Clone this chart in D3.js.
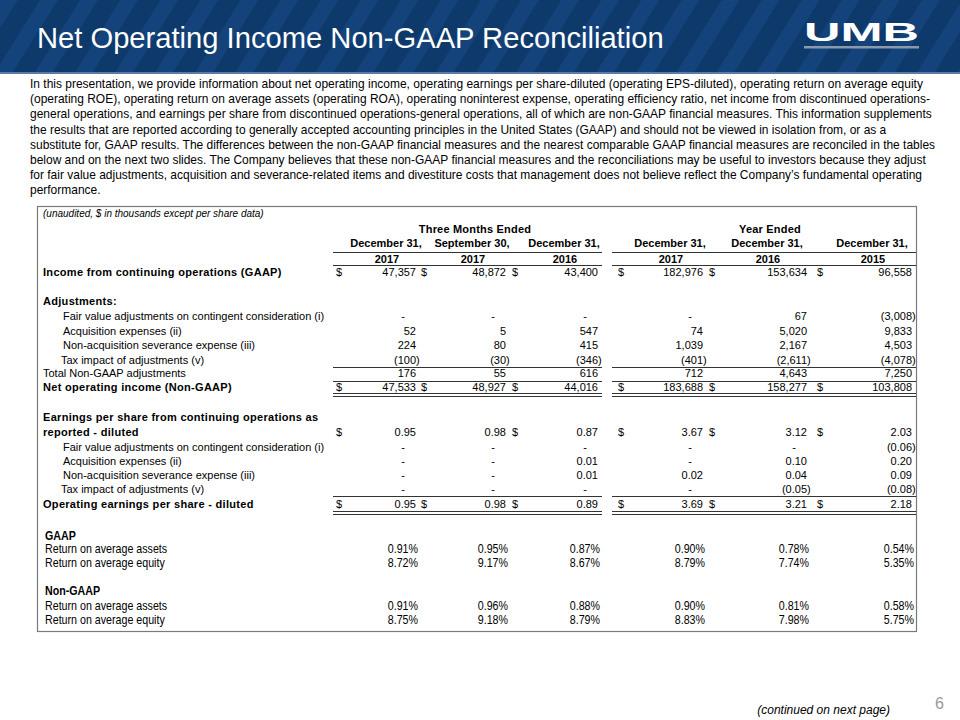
<!DOCTYPE html>
<html><head><meta charset="utf-8">
<script src="https://cdn.jsdelivr.net/npm/d3@7"></script>
<style>body{margin:0;background:#fff} svg{display:block}</style>
</head><body>
<script>
// ---------- DATA ----------
const titleText = "Net Operating Income Non-GAAP Reconciliation";
const introLines = [
  "In this presentation, we provide information about net operating income, operating earnings per share-diluted (operating EPS-diluted), operating return on average equity",
  "(operating ROE), operating return on average assets (operating ROA), operating noninterest expense, operating efficiency ratio, net income from discontinued operations-",
  "general operations, and earnings per share from discontinued operations-general operations, all of which are non-GAAP financial measures. This information supplements",
  "the results that are reported according to generally accepted accounting principles in the United States (GAAP) and should not be viewed in isolation from, or as a",
  "substitute for, GAAP results. The differences between the non-GAAP financial measures and the nearest comparable GAAP financial measures are reconciled in the tables",
  "below and on the next two slides. The Company believes that these non-GAAP financial measures and the reconciliations may be useful to investors because they adjust",
  "for fair value adjustments, acquisition and severance-related items and divestiture costs that management does not believe reflect the Company\u2019s fundamental operating",
  "performance."
];
const periodGroups = ["Three Months Ended", "Year Ended"];
const columnDates = ["December 31,", "September 30,", "December 31,", "December 31,", "December 31,", "December 31,"];
const columnYears = ["2017", "2017", "2016", "2017", "2016", "2015"];

const incomeGAAP     = [47357, 48872, 43400, 182976, 153634, 96558];
const fairValueAdj   = [0, 0, 0, 0, 67, -3008];
const acquisitionExp = [52, 5, 547, 74, 5020, 9833];
const severanceExp   = [224, 80, 415, 1039, 2167, 4503];
const taxImpact      = [-100, -30, -346, -401, -2611, -4078];
const totalAdj       = [176, 55, 616, 712, 4643, 7250];
const netOpIncome    = [47533, 48927, 44016, 183688, 158277, 103808];

const epsReported    = [0.95, 0.98, 0.87, 3.67, 3.12, 2.03];
const epsFairValue   = [0, 0, 0, 0, 0, -0.06];
const epsAcquisition = [0, 0, 0.01, 0, 0.10, 0.20];
const epsSeverance   = [0, 0, 0.01, 0.02, 0.04, 0.09];
const epsTax         = [0, 0, 0, 0, -0.05, -0.08];
const operatingEPS   = [0.95, 0.98, 0.89, 3.69, 3.21, 2.18];

const gaapROA    = [0.91, 0.95, 0.87, 0.90, 0.78, 0.54];
const gaapROE    = [8.72, 9.17, 8.67, 8.79, 7.74, 5.35];
const nonGaapROA = [0.91, 0.96, 0.88, 0.90, 0.81, 0.58];
const nonGaapROE = [8.75, 9.18, 8.79, 8.83, 7.98, 5.75];

// ---------- SETUP ----------
const FONT = "'Liberation Sans', Arial, Helvetica, sans-serif";
const svg = d3.select("body").append("svg").attr("width", 960).attr("height", 720);

// header band
const defs = svg.append("defs");
const pat = defs.append("pattern").attr("id", "stripes").attr("patternUnits", "userSpaceOnUse")
  .attr("width", 34).attr("height", 34).attr("patternTransform", "rotate(32)");
pat.append("rect").attr("width", 34).attr("height", 34).attr("fill", "#0d396b");
pat.append("rect").attr("width", 15).attr("height", 34).attr("fill", "#14427a");
svg.append("rect").attr("x", 0).attr("y", 0).attr("width", 960).attr("height", 73).attr("fill", "url(#stripes)");
svg.append("rect").attr("x", 0).attr("y", 72).attr("width", 960).attr("height", 2).attr("fill", "#5a7ca3");

function fitText(sel, target) {
  const w = sel.node().getComputedTextLength();
  const fs = parseFloat(sel.attr("font-size"));
  sel.attr("font-size", (fs * target / w).toFixed(2));
}

const title = svg.append("text").attr("x", 37).attr("y", 48).attr("fill", "#fff")
  .attr("font-family", FONT).attr("font-size", 28).text(titleText);
fitText(title, 627);

svg.append("text").attr("x", 804).attr("y", 41).attr("fill", "#fff")
  .attr("font-family", FONT).attr("font-weight", 900).attr("font-size", 25)
  .attr("textLength", 115).attr("lengthAdjust", "spacingAndGlyphs").text("UMB");
svg.append("rect").attr("x", 804).attr("y", 46).attr("width", 115).attr("height", 2.5).attr("fill", "#8a99ad");

// intro paragraph
const para = svg.append("g").attr("font-family", FONT).attr("font-size", 12).attr("fill", "#000");
const paraY = d3.scaleLinear().domain([0, 1]).range([88, 103.2]);
const pl = para.selectAll("text").data(introLines).join("text")
  .attr("x", 30).attr("y", (d, i) => paraY(i)).text(d => d);
{
  const w = pl.nodes()[0].getComputedTextLength();
  para.attr("font-size", (12 * 893 / w).toFixed(2));
}

// ---------- TABLE ----------
const T = svg.append("g").attr("font-family", FONT).attr("font-size", 11).attr("fill", "#000");
T.append("rect").attr("x", 37.5).attr("y", 206.5).attr("width", 879).attr("height", 425)
  .attr("fill", "none").attr("stroke", "#7a7a7a").attr("stroke-width", 1.2);

const cols = d3.range(6);
const colRight = d3.scaleOrdinal().domain(cols).range([416, 506, 598, 703, 807, 912]);
const colDollar = d3.scaleOrdinal().domain(cols).range([336, 421, 512, 618, 709, 817]);
const colCenter = d3.scaleOrdinal().domain(cols).range([386, 472, 564, 670, 767, 872]);
const groupCenter = d3.scaleOrdinal().domain(periodGroups).range([475, 770]);

T.append("text").attr("x", 43).attr("y", 213).attr("dy", "0.35em").attr("font-style", "italic")
  .attr("font-size", 10).text("(unaudited, $ in thousands except per share data)");
T.selectAll(".grp").data(periodGroups).join("text").attr("class", "grp")
  .attr("x", d => groupCenter(d)).attr("y", 229).attr("dy", "0.35em").attr("text-anchor", "middle")
  .attr("font-weight", "bold").attr("letter-spacing", 0.2).text(d => d);
T.selectAll(".dt").data(columnDates).join("text").attr("class", "dt")
  .attr("x", (d, i) => colCenter(i)).attr("y", 243).attr("dy", "0.35em").attr("text-anchor", "middle")
  .attr("font-weight", "bold").text(d => d);
T.selectAll(".yr").data(columnYears).join("text").attr("class", "yr")
  .attr("x", (d, i) => colCenter(i) + 1).attr("y", 259).attr("dy", "0.35em").attr("text-anchor", "middle")
  .attr("font-weight", "bold").text(d => d);

const ALL = [1, 1, 1, 1, 1, 1];
const rows = [
  {k: "income", label: "Income from continuing operations (GAAP)", bold: true, vals: incomeGAAP, f: "int", dollar: ALL},
  {k: "adjH", label: "Adjustments:", bold: true},
  {k: "fv", label: "Fair value adjustments on contingent consideration (i)", ind: 63, vals: fairValueAdj, f: "int"},
  {k: "acq", label: "Acquisition expenses (ii)", ind: 63, vals: acquisitionExp, f: "int"},
  {k: "sev", label: "Non-acquisition severance expense (iii)", ind: 63, vals: severanceExp, f: "int"},
  {k: "tax", label: "Tax impact of adjustments (v)", ind: 61, vals: taxImpact, f: "int"},
  {k: "tot", label: "Total Non-GAAP adjustments", vals: totalAdj, f: "int"},
  {k: "net", label: "Net operating income (Non-GAAP)", bold: true, vals: netOpIncome, f: "int", dollar: ALL},
  {k: "eps1", label: "Earnings per share from continuing operations as", bold: true},
  {k: "eps2", label: "reported - diluted", bold: true, vals: epsReported, f: "eps", dollar: [1, 0, 1, 1, 1, 1]},
  {k: "efv", label: "Fair value adjustments on contingent consideration (i)", ind: 63, vals: epsFairValue, f: "eps"},
  {k: "eacq", label: "Acquisition expenses (ii)", ind: 63, vals: epsAcquisition, f: "eps"},
  {k: "esev", label: "Non-acquisition severance expense (iii)", ind: 63, vals: epsSeverance, f: "eps"},
  {k: "etax", label: "Tax impact of adjustments (v)", ind: 61, vals: epsTax, f: "eps"},
  {k: "oeps", label: "Operating earnings per share - diluted", bold: true, vals: operatingEPS, f: "eps", dollar: ALL},
  {k: "gaap", label: "GAAP", bold: true, narrow: true},
  {k: "groa", label: "Return on average assets", narrow: true, vals: gaapROA, f: "pct"},
  {k: "groe", label: "Return on average equity", narrow: true, vals: gaapROE, f: "pct"},
  {k: "ngaap", label: "Non-GAAP", bold: true, narrow: true},
  {k: "nroa", label: "Return on average assets", narrow: true, vals: nonGaapROA, f: "pct"},
  {k: "nroe", label: "Return on average equity", narrow: true, vals: nonGaapROE, f: "pct"}
];
const rowY = d3.scaleOrdinal().domain(rows.map(r => r.k))
  .range([272, 301, 316, 331, 345, 360, 373, 387, 417, 432, 447, 461, 475, 489, 504, 536, 549, 563, 591, 606, 620]);

const fInt = d3.format(","), f2 = d3.format(".2f");
function fmt(v, f) {
  if (f === "pct") return f2(v) + "%";
  if (v === 0) return "-";
  const s = f === "int" ? fInt(Math.abs(v)) : f2(Math.abs(v));
  return v < 0 ? "(" + s + ")" : s;
}
const SX = 0.89; // condensed look for the ratio section

rows.forEach(r => {
  const y = rowY(r.k);
  const lx = r.narrow ? 45 : (r.ind || 43);
  const lab = T.append("text").attr("dy", "0.35em")
    .attr("font-weight", r.bold ? "bold" : null).text(r.label);
  if (r.narrow) {
    lab.attr("font-size", 12).attr("transform", `translate(${lx},${y}) scale(${SX},1)`);
  } else {
    lab.attr("x", lx).attr("y", y);
    if (r.bold) lab.attr("letter-spacing", 0.3);
  }
  if (!r.vals) return;
  T.selectAll(null).data(r.vals).join("text")
    .attr("dy", "0.35em")
    .each(function (v, i) {
      const s = fmt(v, r.f);
      const t = d3.select(this).text(s);
      if (r.f === "pct") {
        t.attr("font-size", 12).attr("text-anchor", "end")
         .attr("transform", `translate(${colRight(i) + 2},${y}) scale(${SX},1)`);
        return;
      }
      t.attr("y", y);
      if (s === "-") t.attr("x", colRight(i) - 13).attr("text-anchor", "middle");
      else if (s[0] === "(") t.attr("x", colRight(i) + 3.7).attr("text-anchor", "end");
      else t.attr("x", colRight(i)).attr("text-anchor", "end");
    });
  if (r.dollar) {
    T.selectAll(null).data(cols.filter(i => r.dollar[i])).join("text")
      .attr("x", i => colDollar(i)).attr("y", y).attr("dy", "0.35em").text("$");
  }
});

// rules
const blocks = [[333, 602], [612, 916]];
const rules = [252, 265, 367, 381, 393, 396, 496, 511, 514];
rules.forEach(ry => {
  T.selectAll(null).data(blocks).join("line")
    .attr("x1", b => b[0]).attr("x2", b => b[1]).attr("y1", ry + 0.5).attr("y2", ry + 0.5)
    .attr("stroke", "#333").attr("stroke-width", 1);
});

// footer
svg.append("text").attr("x", 890).attr("y", 714).attr("text-anchor", "end").attr("font-family", FONT)
  .attr("font-style", "italic").attr("font-size", 12).text("(continued on next page)");
svg.append("text").attr("x", 944).attr("y", 709).attr("text-anchor", "end").attr("font-family", FONT)
  .attr("font-size", 16).attr("fill", "#9a9a9a").text("6");
</script>
</body></html>
